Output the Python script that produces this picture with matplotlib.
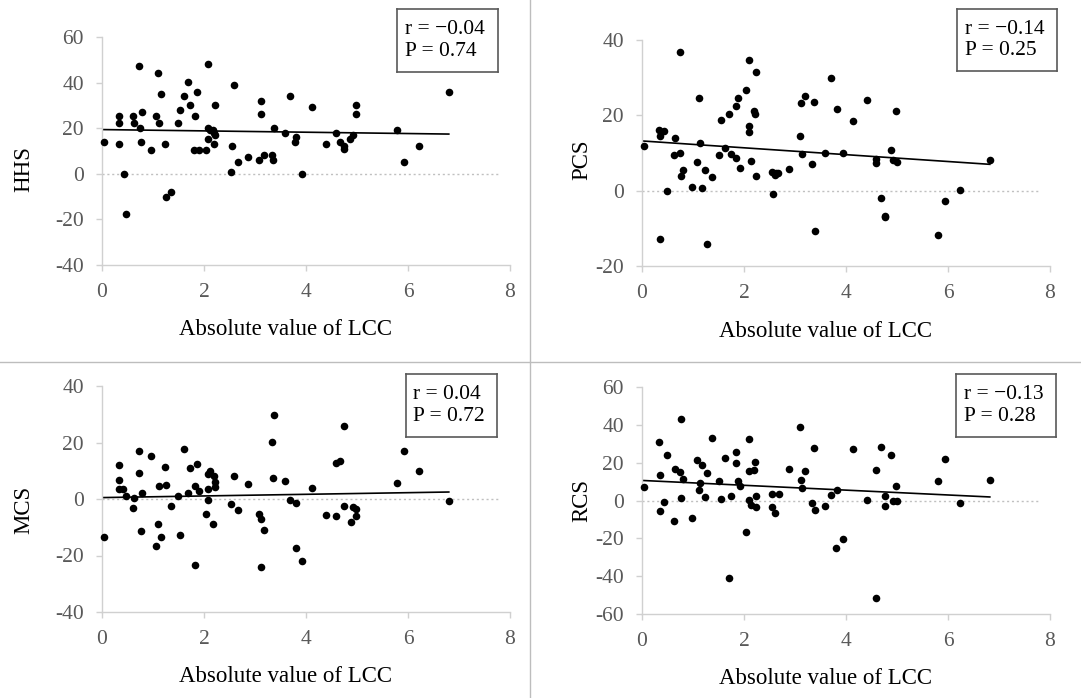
"""Scatter plots of clinical scores vs absolute value of LCC (4 panels)."""

import matplotlib

matplotlib.use("Agg")
import matplotlib.pyplot as plt
from matplotlib.lines import Line2D

plt.rcParams["font.family"] = ["Liberation Serif", "DejaVu Serif"]
plt.rcParams["axes.unicode_minus"] = False

# --- data -----------------------------------------------------------------
hhs_x = [0.03, 0.33, 0.33, 0.33, 0.43, 0.47, 0.61, 0.63, 0.73, 0.74, 0.76, 0.79,
         0.97, 1.05, 1.09, 1.12, 1.15, 1.23, 1.26, 1.35, 1.49, 1.52, 1.61, 1.68,
         1.73, 1.83, 1.81, 1.91, 2.03, 1.86, 2.08, 2.08, 2.07, 2.12, 2.17, 2.20,
         2.22, 2.20, 2.22, 2.54, 2.53, 2.59, 2.67, 2.87, 3.08, 3.11, 3.12, 3.17,
         3.33, 3.35, 3.38, 3.58, 3.68, 3.80, 3.79, 3.93, 4.11, 4.39, 4.59, 4.67,
         4.74, 4.74, 4.87, 4.92, 4.98, 4.98, 5.79, 5.93, 6.22, 6.80]
hhs_y = [14.1, 25.3, 22.2, 12.9, 0.0, -17.8, 25.3, 22.2, 47.2, 20.1, 14.1, 27.2,
         10.4, 25.3, 44.3, 22.2, 35.0, 13.1, -10.0, -8.1, 22.2, 28.2, 34.1, 40.1,
         30.3, 25.3, 10.4, 10.4, 10.4, 36.0, 48.2, 20.1, 15.3, 19.1, 19.1, 18.1,
         17.1, 13.1, 30.3, 12.1, 1.0, 39.1, 5.1, 7.2, 6.2, 31.9, 26.2, 8.1,
         8.1, 6.2, 20.0, 18.1, 34.1, 16.2, 14.1, 0.0, 29.3, 13.1, 18.1, 14.1,
         11.0, 12.1, 15.1, 17.1, 30.3, 26.2, 19.1, 5.1, 12.1, 36.0]

pcs_x = [0.03, 0.34, 0.36, 0.44, 0.35, 0.49, 0.63, 0.65, 0.75, 0.75, 0.76, 0.81,
         0.99, 1.07, 1.12, 1.14, 1.17, 1.24, 1.27, 1.37, 1.50, 1.54, 1.63, 1.70,
         1.74, 1.84, 1.84, 1.88, 1.93, 2.04, 2.10, 2.10, 2.10, 2.14, 2.20, 2.22,
         2.23, 2.24, 2.54, 2.56, 2.60, 2.63, 2.67, 2.88, 3.10, 3.13, 3.12, 3.20,
         3.34, 3.37, 3.40, 3.59, 3.70, 3.82, 3.95, 4.13, 4.41, 4.59, 4.59, 4.69,
         4.76, 4.76, 4.89, 4.92, 4.99, 5.00, 5.80, 5.95, 6.24, 6.82]
pcs_y = [11.9, 16.1, 14.5, 15.9, -12.8, 0.0, 9.5, 14.1, 36.7, 10.1, 3.9, 5.6,
         0.9, 7.7, 24.6, 12.6, 0.7, 5.6, -14.2, 3.5, 9.4, 18.8, 11.2, 20.3,
         9.8, 22.5, 8.7, 24.6, 6.1, 26.7, 34.8, 17.2, 15.7, 7.8, 21.1, 20.3,
         3.9, 31.5, 5.0, -1.0, 4.2, 4.6, 4.8, 5.8, 14.5, 9.8, 23.4, 25.1,
         7.1, 23.5, -10.7, 10.1, 29.8, 21.8, 10.1, 18.5, 24.0, 8.5, 7.3, -1.9,
         -6.7, -7.1, 10.7, 8.1, 21.2, 7.7, -11.9, -2.7, 0.2, 8.2]

mcs_x = [0.03, 0.33, 0.33, 0.33, 0.42, 0.47, 0.61, 0.63, 0.73, 0.73, 0.76, 0.79,
         0.97, 1.05, 1.10, 1.12, 1.15, 1.23, 1.26, 1.35, 1.49, 1.52, 1.61, 1.68,
         1.73, 1.83, 1.83, 1.86, 1.91, 2.03, 2.07, 2.08, 2.08, 2.12, 2.18, 2.20,
         2.21, 2.22, 2.52, 2.59, 2.67, 2.87, 3.08, 3.12, 3.12, 3.17, 3.33, 3.35,
         3.37, 3.58, 3.68, 3.80, 3.80, 3.93, 4.11, 4.39, 4.59, 4.67, 4.59, 4.74,
         4.74, 4.88, 4.92, 4.98, 4.98, 5.79, 5.93, 6.22, 6.80]
mcs_y = [-13.6, 12.0, 6.7, 3.6, 3.6, 1.2, -3.2, 0.2, 16.9, 9.3, -11.3, 2.0,
         15.1, -16.6, -8.7, 4.5, -13.4, 11.2, 4.9, -2.5, 1.2, -12.8, 17.8, 2.1,
         10.9, -23.2, 4.5, 12.4, 2.8, -5.3, 8.8, 3.4, -0.5, 10.0, -8.7, 8.0,
         6.0, 4.2, -1.9, 8.0, -4.0, 5.2, -5.3, -7.2, -23.9, -10.8, 20.1, 7.5,
         29.8, 6.5, -0.2, -17.2, -1.3, -21.9, 3.9, -5.6, 12.8, 13.4, -6.1, 25.8,
         -2.5, -8.1, -2.9, -3.5, -6.1, 5.6, 16.9, 9.8, -0.7]

rcs_x = [0.03, 0.34, 0.35, 0.35, 0.44, 0.49, 0.63, 0.65, 0.75, 0.76, 0.76, 0.81,
         0.99, 1.07, 1.12, 1.14, 1.17, 1.24, 1.27, 1.37, 1.50, 1.54, 1.63, 1.70,
         1.74, 1.84, 1.84, 1.88, 1.92, 2.04, 2.10, 2.10, 2.10, 2.14, 2.20, 2.22,
         2.23, 2.23, 2.54, 2.54, 2.61, 2.68, 2.88, 3.10, 3.12, 3.13, 3.20, 3.34,
         3.37, 3.40, 3.59, 3.70, 3.80, 3.82, 3.95, 4.13, 4.41, 4.59, 4.59, 4.69,
         4.76, 4.76, 4.89, 4.92, 4.99, 5.00, 5.80, 5.95, 6.24, 6.82]
rcs_y = [7.2, 30.8, 13.4, -5.5, -0.7, 24.3, -10.7, 16.9, 15.0, 43.0, 1.4, 11.6,
         -9.3, 21.5, 5.8, 9.5, 19.0, 1.9, 14.3, 32.8, 10.2, 0.7, 22.4, -40.9,
         2.3, 25.7, 19.6, 10.4, 7.6, -16.6, 32.4, 15.5, 0.2, -2.6, 16.2, 20.4,
         2.6, -3.3, 3.3, -3.7, -6.5, 3.5, 16.9, 38.6, 11.1, 6.5, 15.7, -1.1,
         28.0, -4.8, -2.8, 2.8, -25.2, 5.8, -20.1, 27.0, 0.2, 16.0, -51.3, 28.4,
         2.6, -2.8, 24.3, -0.2, 7.6, -0.5, 10.2, 22.2, -1.4, 11.1]

# regression lines as drawn in the reference: (intercept, slope)
fits = {"HHS": (19.4, -0.29), "PCS": (13.2, -0.91),
        "MCS": (0.5, 0.29), "RCS": (10.6, -1.28)}
stats = {"HHS": ("\u22120.04", "0.74"), "PCS": ("\u22120.14", "0.25"),
         "MCS": ("0.04", "0.72"), "RCS": ("\u22120.13", "0.28")}
ylims = {"HHS": (-40, 60, 20), "PCS": (-20, 40, 20),
         "MCS": (-40, 40, 20), "RCS": (-60, 60, 20)}
x_ticks = [0, 2, 4, 6, 8]

W, H = 1081, 698
GREY = "#595959"
SPINE = "#d0d0d0"

# panel geometry in pixels: left, right, top(y at ymax), bottom(y at ymin)
panels = [
    ("HHS", hhs_x, hhs_y, (102, 510, 37, 265), (397, 498, 9, 72), 24, 169),
    ("PCS", pcs_x, pcs_y, (642, 1050, 40, 266), (957, 1057, 9, 71), 582, 160),
    ("MCS", mcs_x, mcs_y, (102, 510, 386, 612), (406, 497, 374, 437), 24, 510),
    ("RCS", rcs_x, rcs_y, (642, 1050, 387, 614), (956, 1056, 374, 437), 582, 500),
]

fig = plt.figure(figsize=(W / 100, H / 100), dpi=100)

# thin divider lines between the four panels
fig.add_artist(Line2D([530 / W, 530 / W], [0, 1], color="#bdbdbd", lw=1.0))
fig.add_artist(Line2D([0, 1], [1 - 362 / H, 1 - 362 / H], color="#bdbdbd", lw=1.0))

for name, xs, ys, (l, r, t, b), (bl, br, bt, bb), ylab_x, ylab_y in panels:
    ax = fig.add_axes([l / W, 1 - b / H, (r - l) / W, (b - t) / H])
    ymin, ymax, step = ylims[name]
    ax.set_xlim(0, 8)
    ax.set_ylim(ymin, ymax)
    ax.set_xticks(x_ticks)
    ax.set_yticks(range(ymin, ymax + 1, step))
    for side in ("top", "right"):
        ax.spines[side].set_visible(False)
    for side in ("left", "bottom"):
        ax.spines[side].set_color(SPINE)
        ax.spines[side].set_linewidth(1.0)
    ax.tick_params(direction="out", length=4, width=1.0, color=SPINE,
                   labelcolor=GREY, labelsize=15.5)
    ax.tick_params(axis="y", pad=9)
    ax.tick_params(axis="x", pad=9)

    ax.axhline(0, xmin=0, xmax=7.8 / 8, color="#c0c0c0", lw=1.0,
               ls=(0, (1.5, 2)), zorder=1)
    ax.scatter(xs, ys, s=30, color="black", zorder=3, linewidths=0, clip_on=False)
    a, k = fits[name]
    x0, x1 = min(xs), max(xs)
    ax.plot([x0, x1], [a + k * x0, a + k * x1], color="black", lw=1.2, zorder=2)

    # axis labels
    fig.text((l + 0.45 * (r - l)) / W, 1 - (b + 65) / H, "Absolute value of LCC",
             ha="center", va="center", fontsize=16.5, color="black")
    fig.text(ylab_x / W, 1 - ylab_y / H, name, rotation=90,
             ha="center", va="center", fontsize=16.5, color="black")

    # statistics box
    box = fig.add_axes([bl / W, 1 - bb / H, (br - bl) / W, (bb - bt) / H])
    box.set_xticks([])
    box.set_yticks([])
    for sp in box.spines.values():
        sp.set_color(GREY)
        sp.set_linewidth(1.2)
    r_txt, p_txt = stats[name]
    box.text(0.08, 0.5, f"r = {r_txt}\nP = {p_txt}", transform=box.transAxes,
             ha="left", va="center", fontsize=15.5, linespacing=1.15)

fig.savefig("out.png", dpi=100)
